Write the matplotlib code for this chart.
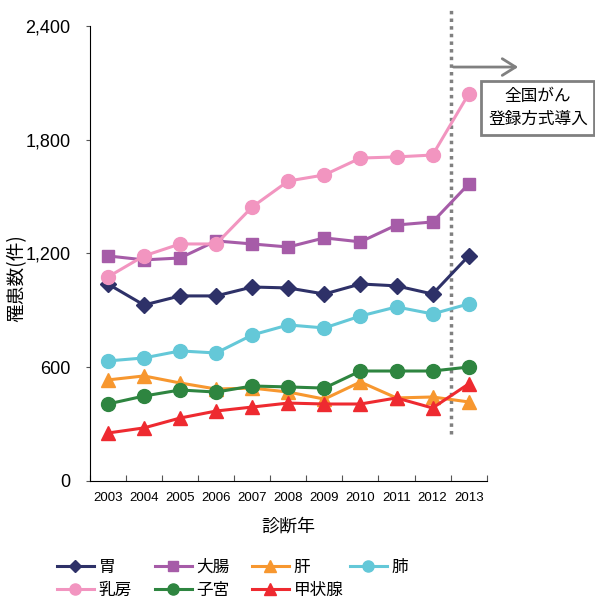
import numpy as np
import matplotlib.pyplot as plt
from matplotlib.patches import FancyArrowPatch

plt.rcParams['font.family'] = ['Noto Sans CJK JP', 'DejaVu Sans']

years = ['2003', '2004', '2005', '2006', '2007', '2008', '2009', '2010', '2011', '2012', '2013']
stomach = [1039, 928, 976, 976, 1023, 1018, 986, 1039, 1029, 986, 1187]
colon = [1187, 1166, 1176, 1266, 1250, 1234, 1282, 1261, 1350, 1366, 1566]
liver = [533, 554, 517, 485, 490, 469, 432, 522, 438, 443, 417]
lung = [633, 649, 686, 675, 770, 823, 807, 870, 918, 881, 934]
breast = [1076, 1187, 1250, 1250, 1445, 1582, 1614, 1703, 1709, 1719, 2041]
uterus = [406, 448, 480, 469, 501, 496, 490, 580, 580, 580, 601]
thyroid = [253, 280, 332, 369, 390, 411, 406, 406, 438, 385, 512]

series = [
    ('胃', stomach, '#2E3168', 'D', 8),
    ('大腸', colon, '#A65CA8', 's', 9),
    ('肝', liver, '#F7972F', '^', 10),
    ('肺', lung, '#64C8D8', 'o', 10),
    ('乳房', breast, '#F295C0', 'o', 10),
    ('子宮', uterus, '#2E8540', 'o', 10),
    ('甲状腺', thyroid, '#EE2A30', '^', 10),
]

fig = plt.figure(figsize=(5.95, 6.02), dpi=100)
ax = fig.add_axes([0.151, 0.201, 0.667, 0.756])
x = np.arange(len(years))

lines = {}
for name, vals, col, mk, ms in series:
    ln, = ax.plot(x, vals, color=col, marker=mk, markersize=ms, linewidth=2.2,
                  label=name, clip_on=False, zorder=3)
    lines[name] = ln

ax.set_xlim(-0.5, 10.5)
ax.set_ylim(0, 2400)
ax.set_yticks([0, 600, 1200, 1800, 2400])
ax.set_yticklabels(['0', '600', '1,200', '1,800', '2,400'],
                   fontsize=13, family=['Liberation Sans', 'DejaVu Sans'])
ax.set_xticks(np.arange(-0.5, 10.6, 1))
ax.set_xticklabels([])
ax.set_xticks(x, minor=True)
ax.set_xticklabels(years, minor=True, fontsize=9.5,
                   family=['Liberation Sans Narrow', 'Liberation Sans'])
ax.tick_params(axis='x', which='major', direction='in', length=4, color='#555555')
ax.tick_params(axis='x', which='minor', length=0, pad=8)
ax.tick_params(axis='y', direction='out', length=3, color='#555555', pad=11)
ax.spines['top'].set_visible(False)
ax.spines['right'].set_visible(False)

ax.set_ylabel('罹患数(件)', fontsize=13.5)
ax.yaxis.set_label_coords(-0.158, 0.446)
ax.set_xlabel('診断年', fontsize=13, labelpad=10)

# registration change marker
ax.axvline(9.5, ymin=0.104, ymax=1.04, color='#808080', linestyle=(0, (1, 1.2)),
           linewidth=2.5, clip_on=False, zorder=2)
arr = FancyArrowPatch((9.5, 2183), (11.45, 2183), arrowstyle='->,head_length=0.8,head_width=0.5',
                      color='#808080', linewidth=2, clip_on=False, mutation_scale=12)
ax.add_patch(arr)
ax.text(11.92, 1967, '全国がん\n登録方式導入', ha='center', va='center', fontsize=12,
        linespacing=1.45, clip_on=False,
        bbox=dict(boxstyle='square,pad=0.4', fc='white', ec='#808080', lw=2))

# legend laid out in fixed-width columns, filled row by row
legend_cols = [['胃', '乳房'], ['大腸', '子宮'], ['肝', '甲状腺'], ['肺']]
col_x = [57, 155, 252, 350]
for names, px in zip(legend_cols, col_x):
    lg = fig.legend([lines[n] for n in names], names, loc='upper left',
                    bbox_to_anchor=(px / 595, 1 - 559 / 602), frameon=False,
                    fontsize=12, handlelength=2.2, handletextpad=0.3,
                    labelspacing=0.35, markerscale=0.8, borderpad=0,
                    borderaxespad=0)

fig.savefig('out.png', dpi=100)
